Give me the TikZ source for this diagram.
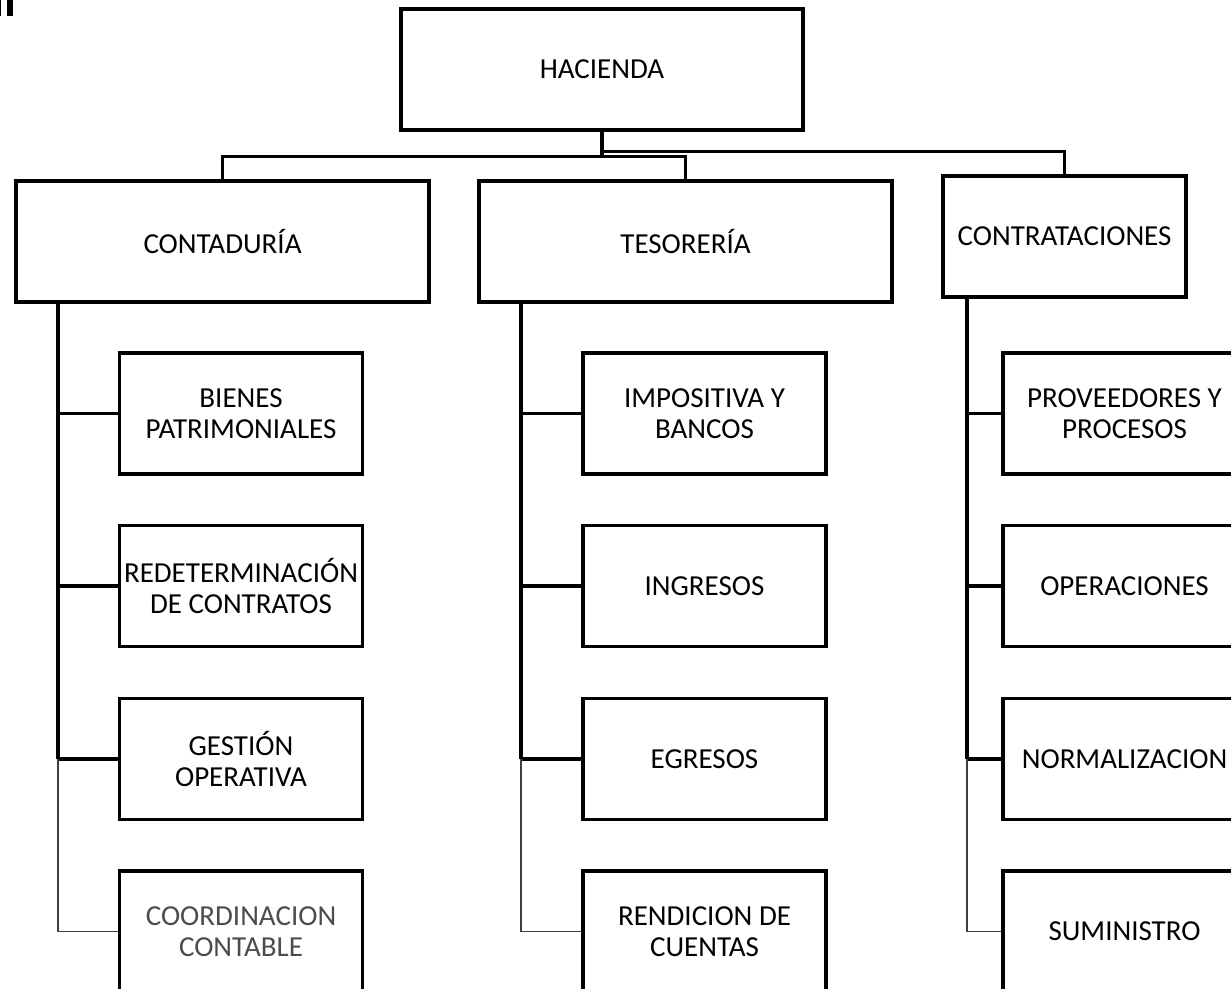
\documentclass[tikz,border=0pt]{standalone}
\usepackage{fontspec}
\setmainfont{Carlito}
\tikzset{
  unit/.style={draw, line width=2pt, minimum width=#1, minimum height=2.42cm,
    inner sep=0pt, align=center, font=\fontsize{16.5}{17.8}\selectfont},
  link/.style={line width=2pt},
  faint/.style={line width=0.7pt, black!75}
}
\begin{document}
\begin{tikzpicture}[x=0.02cm,y=-0.02cm]
            \def\rowTop{413.5}
            \def\rowStep{172.7}
            \useasboundingbox (0,0) rectangle (1231,989);

            \fill (0,0) rectangle (1.5,16);
            \fill (7,0) rectangle (13,16);

            \node[unit=8.04cm] (hac) at (602,69.5) {HACIENDA};
            \node[unit=8.26cm] (cont) at (222.5,241.5) {CONTADURÍA};
            \node[unit=8.26cm] (tes) at (685.5,241.5) {TESORERÍA};
            \node[unit=4.86cm] (ctr) at (1064.5,236.5) {CONTRATACIONES};

            \draw[link] (hac.south) -- ++(0,25) -| (cont.north);
            \draw[link] (hac.south) ++(0,25) -| (tes.north);
            \draw[link] (hac.south) -- ++(0,20) -| (ctr.north);

            \foreach \i\name\tone in{0/{BIENES\\PATRIMONIALES}/black,1/{REDETERMINACIÓN\\DE CONTRATOS}/black,2/{GESTIÓN\\OPERATIVA}/black,3/{COORDINACION\\CONTABLE}/black!70} {
                        \node[unit=4.87cm,text=\tone] (c\i) at (241,{\rowTop+\i*\rowStep}) {\name};
                  }
            \foreach \i\name in{0/{IMPOSITIVA Y\\BANCOS},1/INGRESOS,2/EGRESOS,3/{RENDICION DE\\CUENTAS}} {
                        \node[unit=4.87cm] (t\i) at (704.5,{\rowTop+\i*\rowStep}) {\name};
                  }
            \foreach \i\name in{0/{PROVEEDORES Y\\PROCESOS},1/OPERACIONES,2/NORMALIZACION,3/SUMINISTRO} {
                        \node[unit=4.87cm] (p\i) at (1124.5,{\rowTop+\i*\rowStep}) {\name};
                  }

            \coordinate (ctrunk) at (58,302);
            \coordinate (ttrunk) at (521,302);
            \coordinate (ptrunk) at (967,297);

            \foreach \col in{c,t,p} {
                        \draw[link] (\col trunk) -- (\col2.west -| \col trunk);
                        \foreach \k in{0,1,2} {
                                    \draw[link] (\col\k.west -| \col trunk) -- (\col\k.west);
                              }
                        \draw[faint] (\col2.west -| \col trunk) |- (\col3.west);
                  }
      \end{tikzpicture}
\end{document}
